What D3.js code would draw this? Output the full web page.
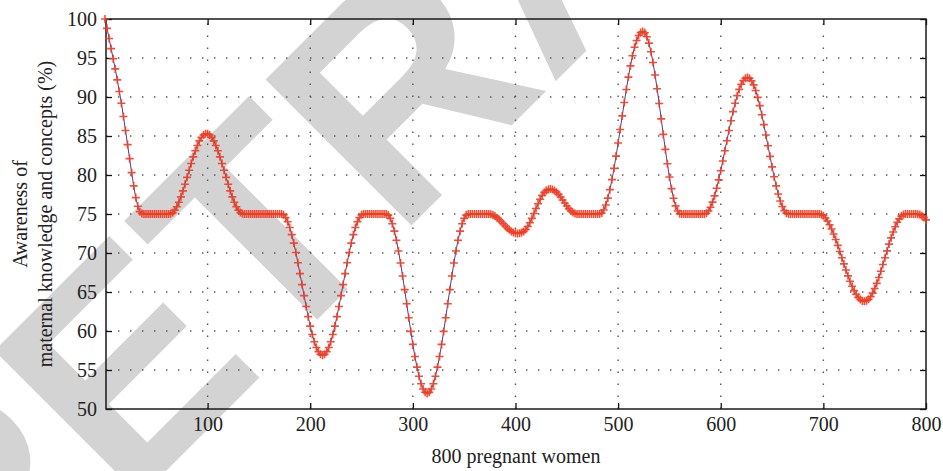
<!DOCTYPE html>
<html>
<head>
<meta charset="utf-8">
<script src="https://cdn.jsdelivr.net/npm/d3@7"></script>
<style>
  body { margin: 0; background: #fff; }
  svg { display: block; }
</style>
</head>
<body>
<div id="chart"></div>
<script>
// Awareness (%), one value every 2 women (0, 2, 4 ... 800)
const awareness = [
  // 0-36
  100, 98.8, 97.5, 96.2, 94.9, 93.6, 92.2, 90.7, 89.2, 87.5, 85.7, 83.9, 82.1, 80.3, 78.6, 77.1, 76.0, 75.3, 75.05,
  // 38-62
  75, 75, 75, 75, 75, 75, 75, 75, 75, 75, 75, 75, 75,
  // 64-134
  75.02, 75.18, 75.48, 75.93, 76.51, 77.2, 77.97, 78.82, 79.7, 80.6, 81.48, 82.33, 83.1, 83.79, 84.37, 84.82, 85.12, 85.28,
  85.28, 85.12, 84.82, 84.37, 83.79, 83.1, 82.33, 81.48, 80.6, 79.7, 78.82, 77.97, 77.2, 76.51, 75.93, 75.48, 75.18, 75.02,
  // 136-172
  75, 75, 75, 75, 75, 75, 75, 75, 75, 75, 75, 75, 75, 75, 75, 75, 75, 75, 75,
  // 174-250
  74.89, 74.56, 74.01, 73.27, 72.35, 71.27, 70.06, 68.75, 67.36, 65.95, 64.54, 63.15, 61.84, 60.63, 59.55, 58.63, 57.88, 57.34, 57.01,
  56.9,
  57.01, 57.34, 57.88, 58.63, 59.55, 60.63, 61.84, 63.15, 64.54, 65.95, 67.36, 68.75, 70.06, 71.27, 72.35, 73.27, 74.01, 74.56, 74.89,
  // 252-274
  75, 75, 75, 75, 75, 75, 75, 75, 75, 75, 75, 75,
  // 276-352
  74.86, 74.44, 73.75, 72.8, 71.63, 70.26, 68.72, 67.06, 65.3, 63.5, 61.7, 59.95, 58.28, 56.74, 55.37, 54.2, 53.24, 52.56, 52.14,
  52.0,
  52.14, 52.56, 53.24, 54.2, 55.37, 56.74, 58.28, 59.95, 61.7, 63.5, 65.3, 67.06, 68.72, 70.26, 71.63, 72.8, 73.75, 74.44, 74.86,
  // 354-374
  75, 75, 75, 75, 75, 75, 75, 75, 75, 75, 75,
  // 376-458
  74.97, 74.88, 74.73, 74.53, 74.29, 74.03, 73.75, 73.47, 73.21, 72.97, 72.77, 72.62, 72.53, 72.5, 72.53, 72.62,
  72.77, 73.02, 73.39, 73.87, 74.44, 75.06, 75.7, 76.32, 76.9, 77.39, 77.77, 78.02, 78.15, 78.2,
  78.15, 78.02, 77.8, 77.51, 77.17, 76.79, 76.41, 76.03, 75.69, 75.4, 75.18, 75.05,
  // 460-482
  75, 75, 75, 75, 75, 75, 75, 75, 75, 75, 75, 75,
  // 484-560
  75.13, 75.52, 76.16, 77.03, 78.12, 79.41, 80.85, 82.42, 84.1, 85.83, 87.58, 89.3, 90.97, 92.55, 93.99, 95.28, 96.37, 97.24, 97.88, 98.27,
  98.4,
  98.23, 97.73, 96.91, 95.8, 94.43, 92.83, 91.06, 89.16, 87.2, 85.21, 83.28, 81.44, 79.74, 78.25, 77.01, 76.04, 75.38, 75.04,
  // 562-584
  75, 75, 75, 75, 75, 75, 75, 75, 75, 75, 75, 75,
  // 586-664
  75.1, 75.39, 75.87, 76.52, 77.33, 78.3, 79.38, 80.55, 81.8, 83.1, 84.4, 85.7, 86.95, 88.13, 89.2, 90.17, 90.98, 91.63, 92.11, 92.4,
  92.5,
  92.4, 92.08, 91.55, 90.84, 89.95, 88.9, 87.72, 86.46, 85.12, 83.75, 82.39, 81.04, 79.78, 78.61, 77.56, 76.66, 75.96, 75.42, 75.11,
  // 666-696
  75, 75, 75, 75, 75, 75, 75, 75, 75, 75, 75, 75, 75, 75, 75, 75,
  // 698-778
  74.94, 74.77, 74.49, 74.11, 73.63, 73.07, 72.43, 71.73, 70.98, 70.2, 69.4, 68.6, 67.82, 67.07, 66.37, 65.73, 65.17, 64.69, 64.31, 64.03, 63.86,
  63.8,
  63.87, 64.07, 64.4, 64.86, 65.44, 66.11, 66.86, 67.66, 68.53, 69.4, 70.27, 71.14, 71.94, 72.69, 73.36, 73.94, 74.38, 74.73, 74.93,
  // 780-800
  75, 75, 75, 75, 75, 75,
  74.98, 74.92, 74.78, 74.55, 74.25
];
const women = d3.range(0, 801, 2);

const xTicks = [100, 200, 300, 400, 500, 600, 700, 800];
const yTicks = [50, 55, 60, 65, 70, 75, 80, 85, 90, 95, 100];
const xLabel = "800 pregnant women";
const yLabelLines = ["Awareness of", "maternal knowledge and concepts (%)"];

const width = 943, height = 471;
const plotLeft = 106, plotRight = 926, plotTop = 19, plotBottom = 409;
const serif = '"Liberation Serif", "DejaVu Serif", serif';

const x = d3.scaleLinear().domain([1, 800]).range([plotLeft, plotRight]);
const y = d3.scaleLinear().domain([50, 100]).range([plotBottom, plotTop]);

const svg = d3.select("#chart").append("svg")
    .attr("width", width)
    .attr("height", height)
    .attr("viewBox", [0, 0, width, height]);

svg.append("rect").attr("width", width).attr("height", height).attr("fill", "#fff");

// grey watermark behind the chart
svg.append("text")
    .attr("transform", "translate(-27,664) rotate(-45)")
    .attr("font-family", '"Liberation Sans", Arial, sans-serif')
    .attr("font-weight", "bold")
    .attr("font-size", 300)
    .attr("fill", "#d3d3d3")
    .text("RETRACTED");

// dotted grid
const grid = svg.append("g")
    .attr("stroke", "#555")
    .attr("stroke-width", 1.4)
    .attr("stroke-dasharray", "1.4,10.6");
grid.selectAll("line.v")
    .data(xTicks.filter(d => d < 800))
    .join("line")
    .attr("class", "v")
    .attr("x1", d => x(d)).attr("x2", d => x(d))
    .attr("y1", plotBottom).attr("y2", plotTop);
grid.selectAll("line.h")
    .data(yTicks.filter(d => d > 50 && d < 100))
    .join("line")
    .attr("class", "h")
    .attr("x1", plotLeft).attr("x2", plotRight)
    .attr("y1", d => y(d)).attr("y2", d => y(d));

// axes, ticks pointing inwards on all four sides
function styleAxis(g) {
    g.select(".domain").remove();
    g.selectAll(".tick line").attr("stroke", "#111").attr("stroke-width", 1.3);
    g.selectAll("text").attr("font-family", serif).attr("font-size", 20).attr("fill", "#222");
}

svg.append("g")
    .attr("transform", `translate(0,${plotBottom})`)
    .call(d3.axisBottom(x).tickValues(xTicks).tickSizeInner(-6).tickSizeOuter(0).tickPadding(8))
    .call(styleAxis);
svg.append("g")
    .attr("transform", `translate(0,${plotTop})`)
    .call(d3.axisTop(x).tickValues(xTicks).tickSizeInner(-6).tickSizeOuter(0).tickFormat(""))
    .call(styleAxis);
svg.append("g")
    .attr("transform", `translate(${plotLeft},0)`)
    .call(d3.axisLeft(y).tickValues(yTicks).tickSizeInner(-6).tickSizeOuter(0).tickPadding(9))
    .call(styleAxis);
svg.append("g")
    .attr("transform", `translate(${plotRight},0)`)
    .call(d3.axisRight(y).tickValues(yTicks).tickSizeInner(-6).tickSizeOuter(0).tickFormat(""))
    .call(styleAxis);

// frame
svg.append("rect")
    .attr("x", plotLeft).attr("y", plotTop)
    .attr("width", plotRight - plotLeft).attr("height", plotBottom - plotTop)
    .attr("fill", "none")
    .attr("stroke", "#1a1a1a")
    .attr("stroke-width", 1.5);

// data: thin blue line with red plus markers
const points = women.map((w, i) => ({w, v: awareness[i]}));

svg.append("path")
    .datum(points)
    .attr("fill", "none")
    .attr("stroke", "#4b3c9c")
    .attr("stroke-width", 1)
    .attr("d", d3.line().x(d => x(d.w)).y(d => y(d.v)));

svg.append("g")
    .attr("stroke", "#ef3d21")
    .attr("stroke-width", 1.6)
    .attr("stroke-opacity", 0.9)
    .selectAll("path")
    .data(points)
    .join("path")
    .attr("d", d => {
        const px = x(d.w), py = y(d.v), s = 4;
        return `M${px - s},${py}H${px + s}M${px},${py - s}V${py + s}`;
    });

// axis titles
svg.append("text")
    .attr("x", (plotLeft + plotRight) / 2)
    .attr("y", 463)
    .attr("text-anchor", "middle")
    .attr("font-family", serif)
    .attr("font-size", 20)
    .attr("fill", "#222")
    .text(xLabel);

const yTitle = svg.append("text")
    .attr("transform", `translate(0,${(plotTop + plotBottom) / 2}) rotate(-90)`)
    .attr("text-anchor", "middle")
    .attr("font-family", serif)
    .attr("font-size", 20)
    .attr("fill", "#222");
yTitle.selectAll("tspan")
    .data(yLabelLines)
    .join("tspan")
    .attr("x", 0)
    .attr("y", (d, i) => 27 + i * 25)
    .text(d => d);
</script>
</body>
</html>
